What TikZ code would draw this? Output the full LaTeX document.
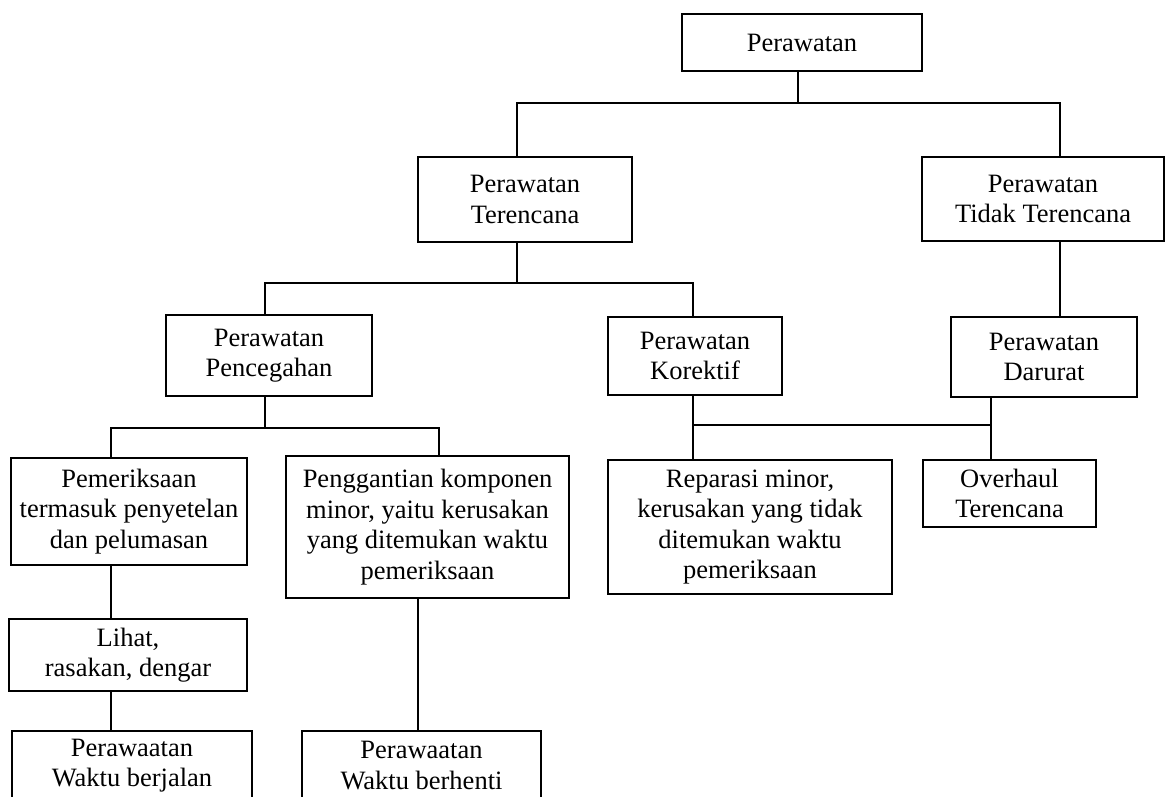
\documentclass[tikz,border=0pt]{standalone}
\usepackage{fontspec}
\setmainfont{Liberation Serif}
\tikzset{
  box/.style={draw=black, line width=1.5pt, inner sep=0pt, align=center,
    font=\fontsize{26.5}{30.5}\selectfont},
  conn/.style={draw=black, line width=1.5pt}
}
\begin{document}
\begin{tikzpicture}[x=1pt,y=-1pt]
\useasboundingbox (0,0) rectangle (1166,796);
\clip (0,0) rectangle (1166,796);
\fill[white] (0,0) rectangle (1166,796);

% boxes
\node[box, minimum width=240pt, minimum height=57pt] (P0) at (802,42.5) {Perawatan};
\node[box, minimum width=214pt, minimum height=85pt] (T) at (525,199.5) {Perawatan\\Terencana};
\node[box, minimum width=242pt, minimum height=84pt] (TT) at (1043,199) {Perawatan\\Tidak Terencana};
\node[box, minimum width=206pt, minimum height=81pt] (PC) at (269,355.5) {Perawatan\\Pencegahan};
\node[box, minimum width=174pt, minimum height=78pt] (K) at (695,356) {Perawatan\\Korektif};
\node[box, minimum width=186pt, minimum height=80pt] (D) at (1044,357) {Perawatan\\Darurat};
\node[box, minimum width=236pt, minimum height=107pt] (PM) at (129,511.5) {Pemeriksaan\\termasuk penyetelan\\dan pelumasan};
\node[box, minimum width=283pt, minimum height=142pt] (PG) at (427.5,527) {Penggantian komponen\\minor, yaitu kerusakan\\yang ditemukan waktu\\pemeriksaan};
\node[box, minimum width=284pt, minimum height=134pt] (R) at (750,527) {Reparasi minor,\\kerusakan yang tidak\\ditemukan waktu\\pemeriksaan};
\node[box, minimum width=173pt, minimum height=67pt] (O) at (1009.5,493.5) {Overhaul\\Terencana};
\node[box, minimum width=238pt, minimum height=72pt] (L) at (128,655) {Lihat,\\rasakan, dengar};
\node[box, minimum width=240pt, minimum height=69pt] (WB) at (132,765.5) {Perawaatan\\Waktu berjalan};
\node[box, minimum width=239pt, minimum height=69pt] (WH) at (421.5,765.5) {Perawaatan\\Waktu berhenti};

% junction coordinates
\coordinate (a0) at (798,103);
\coordinate (aT) at (517,103);
\coordinate (aTT) at (1060,103);
\coordinate (b0) at (517,283);
\coordinate (bL) at (265,283);
\coordinate (bR) at (693,283);
\coordinate (c0) at (265,428);
\coordinate (cL) at (111,428);
\coordinate (cR) at (439,428);
\coordinate (d0) at (693,425);
\coordinate (d1) at (991,425);
\coordinate (e0) at (418,600);

% connectors
\draw[conn] (P0.south -| a0) -- (a0);
\draw[conn] (T.north -| aT) -- (aT) -- (aTT) -- (TT.north -| aTT);
\draw[conn] (T.south -| b0) -- (b0);
\draw[conn] (PC.north -| bL) -- (bL) -- (bR) -- (K.north -| bR);
\draw[conn] (TT.south -| aTT) -- (D.north -| aTT);
\draw[conn] (PC.south -| c0) -- (c0);
\draw[conn] (PM.north -| cL) -- (cL) -- (cR) -- (PG.north -| cR);
\draw[conn] (K.south -| d0) -- (R.north -| d0);
\draw[conn] (d0) -- (d1);
\draw[conn] (D.south -| d1) -- (O.north -| d1);
\draw[conn] (PM.south -| cL) -- (L.north -| cL);
\draw[conn] (L.south -| cL) -- (WB.north -| cL);
\draw[conn] (PG.south -| e0) -- (WH.north -| e0);
\end{tikzpicture}
\end{document}
